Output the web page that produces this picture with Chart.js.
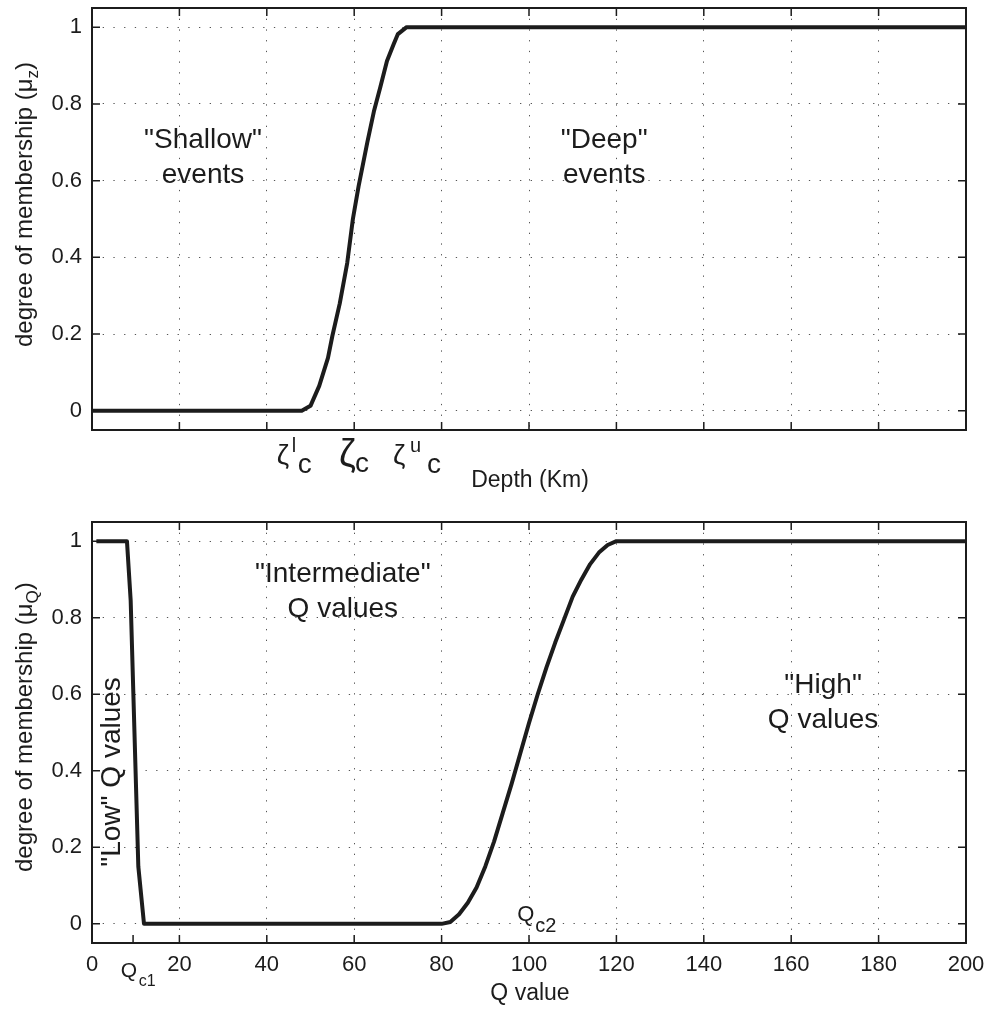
<!DOCTYPE html>
<html>
<head>
<meta charset="utf-8">
<title>Degree of membership</title>
<script src="https://cdn.jsdelivr.net/npm/chart.js@4.4.1/dist/chart.umd.min.js"></script>
<style>
  html, body { margin: 0; padding: 0; background: #fff; }
  #wrap { position: relative; width: 991px; height: 1010px; }
  canvas { position: absolute; left: 0; }
  #depthChart { top: 0; }
  #qChart { top: 500px; }
</style>
</head>
<body>
<div id="wrap">
  <canvas id="depthChart" width="991" height="500"></canvas>
  <canvas id="qChart" width="991" height="510"></canvas>
</div>
<script>
// top panel: depth membership (mu_z)
const depthX  = [0, 48, 50, 52, 54, 55, 56.7, 58.4, 59.7, 61, 63, 64.5, 66, 67.5, 69, 70, 72, 200];
const depthMu = [0, 0, 0.013, 0.065, 0.138, 0.195, 0.28, 0.385, 0.5, 0.585, 0.7, 0.78, 0.845, 0.912, 0.955, 0.982, 1, 1];

// bottom panel: Q membership (mu_Q)
const qX  = [1, 8, 8.85, 10.6, 11.9, 80, 82, 84, 86, 88, 90, 92, 94, 96, 98, 100, 102, 104, 106, 108, 110, 112, 114, 116, 118, 120, 200];
const qMu = [1, 1, 0.845, 0.15, 0, 0, 0.005, 0.025, 0.055, 0.095, 0.15, 0.215, 0.29, 0.365, 0.445, 0.525, 0.6, 0.67, 0.735, 0.795, 0.855, 0.9, 0.94, 0.97, 0.99, 1, 1];

// axes
const xTicks = [0, 20, 40, 60, 80, 100, 120, 140, 160, 180, 200];
const yTicks = [0, 0.2, 0.4, 0.6, 0.8, 1];
const yMin = -0.05;
const yMax = 1.05;

const FONT = '"Liberation Sans", Arial, Helvetica, sans-serif';
const INK = '#1c1c1c';

// draw a run of text pieces (for sub/superscripts)
function drawParts(ctx, parts, x, y, rotate) {
    ctx.save();
    ctx.translate(x, y);
    if (rotate) ctx.rotate(-Math.PI / 2);
    ctx.fillStyle = INK;
    ctx.textAlign = 'left';
    ctx.textBaseline = 'alphabetic';
    let cx = 0;
    parts.forEach(p => {
        ctx.font = p.size + 'px ' + FONT;
        const px = p.dx !== undefined ? p.dx : cx;
        ctx.fillText(p.t, px, p.dy || 0);
        cx = px + ctx.measureText(p.t).width;
    });
    ctx.restore();
}

// matlab-like frame: box, inward ticks, labels
const framePlugin = {
    id: 'frame',
    afterDraw(chart, args, opts) {
        const { ctx, chartArea: a, scales: { x, y } } = chart;
        ctx.save();
        ctx.strokeStyle = INK;
        ctx.lineWidth = 1.5;
        ctx.beginPath();
        xTicks.forEach(v => {
            const px = x.getPixelForValue(v);
            ctx.moveTo(px, a.bottom); ctx.lineTo(px, a.bottom - 8);
            ctx.moveTo(px, a.top); ctx.lineTo(px, a.top + 8);
        });
        (opts.extraTicks || []).forEach(v => {
            const px = x.getPixelForValue(v);
            ctx.moveTo(px, a.bottom); ctx.lineTo(px, a.bottom - 8);
        });
        yTicks.forEach(v => {
            const py = y.getPixelForValue(v);
            ctx.moveTo(a.left, py); ctx.lineTo(a.left + 8, py);
            ctx.moveTo(a.right, py); ctx.lineTo(a.right - 8, py);
        });
        ctx.stroke();
        ctx.lineWidth = 2;
        ctx.strokeRect(a.left, a.top, a.right - a.left, a.bottom - a.top);
        ctx.restore();

        // y axis title, rotated
        drawParts(ctx, opts.yTitle, 32, opts.yTitleStart, true);

        // x axis title
        ctx.save();
        ctx.fillStyle = INK;
        ctx.font = '23px ' + FONT;
        ctx.textAlign = 'center';
        ctx.fillText(opts.xTitle, (a.left + a.right) / 2 + 1, a.bottom + 57);
        ctx.restore();

        // labels under the axis (zeta, Q_c1)
        (opts.axisLabels || []).forEach(l => {
            drawParts(ctx, l.parts, x.getPixelForValue(l.x), a.bottom + l.below);
        });

        // labels inside the plot
        (opts.inside || []).forEach(l => {
            drawParts(ctx, l.parts, x.getPixelForValue(l.x), y.getPixelForValue(l.y));
        });

        // region notes
        (opts.notes || []).forEach(n => {
            const px = x.getPixelForValue(n.x);
            const py = y.getPixelForValue(n.y);
            ctx.save();
            ctx.fillStyle = INK;
            ctx.font = '28px ' + FONT;
            ctx.textAlign = 'center';
            ctx.translate(px, py);
            if (n.rotate) ctx.rotate(-Math.PI / 2);
            n.lines.forEach((t, i) => ctx.fillText(t, 0, i * 35));
            ctx.restore();
        });
    }
};

function makeChart(id, xs, ys, cfg) {
    const ctx = document.getElementById(id).getContext('2d');
    return new Chart(ctx, {
        type: 'line',
        data: {
            datasets: [{
                data: xs.map((v, i) => ({ x: v, y: ys[i] })),
                borderColor: INK,
                borderWidth: 4,
                pointRadius: 0,
                tension: 0,
                fill: false,
                borderJoinStyle: 'round'
            }]
        },
        options: {
            responsive: false,
            animation: false,
            events: [],
            layout: { padding: cfg.padding },
            plugins: {
                legend: { display: false },
                tooltip: { enabled: false },
                frame: cfg.frame
            },
            scales: {
                x: {
                    type: 'linear',
                    min: 0,
                    max: 200,
                    afterBuildTicks: s => { s.ticks = xTicks.map(v => ({ value: v })); },
                    afterFit: s => { s.height = cfg.xHeight; s.paddingLeft = 0; s.paddingRight = 0; },
                    ticks: {
                        display: cfg.xLabels,
                        font: { family: FONT, size: 22 },
                        color: INK,
                        padding: 9,
                        maxRotation: 0,
                        autoSkip: false,
                        callback: v => String(v)
                    },
                    grid: { color: '#555', lineWidth: 1, drawTicks: false },
                    border: { display: false, dash: [1.3, 9.4] }
                },
                y: {
                    type: 'linear',
                    min: yMin,
                    max: yMax,
                    afterBuildTicks: s => { s.ticks = yTicks.map(v => ({ value: v })); },
                    afterFit: s => { s.width = 92; s.paddingTop = 0; s.paddingBottom = 0; },
                    ticks: {
                        font: { family: FONT, size: 22 },
                        color: INK,
                        padding: 10,
                        callback: v => String(v)
                    },
                    grid: { color: '#555', lineWidth: 1, drawTicks: false },
                    border: { display: false, dash: [1.3, 9.4] }
                }
            }
        },
        plugins: [framePlugin]
    });
}

// top: depth
makeChart('depthChart', depthX, depthMu, {
    padding: { left: 0, right: 25, top: 8, bottom: 0 },
    xHeight: 70,
    xLabels: false,
    frame: {
        xTitle: 'Depth (Km)',
        yTitleStart: 347,
        yTitle: [
            { t: 'degree of membership (\u03bc', size: 24 },
            { t: 'z', size: 17, dy: 6 },
            { t: ')', size: 24 }
        ],
        axisLabels: [
            { x: 42.3, below: 34, parts: [
                { t: '\u03b6', size: 28, dx: 0 },
                { t: 'l', size: 20, dx: 15, dy: -12 },
                { t: 'c', size: 28, dx: 21, dy: 9 }
            ] },
            { x: 56.5, below: 36, parts: [
                { t: '\u03b6', size: 38, dx: 0 },
                { t: 'c', size: 28, dx: 16, dy: 6 }
            ] },
            { x: 68.9, below: 34, parts: [
                { t: '\u03b6', size: 28, dx: 0 },
                { t: 'u', size: 20, dx: 17, dy: -12 },
                { t: 'c', size: 28, dx: 34, dy: 9 }
            ] }
        ],
        notes: [
            { lines: ['"Shallow"', 'events'], x: 25.4, y: 0.684 },
            { lines: ['"Deep"', 'events'], x: 117.2, y: 0.684 }
        ]
    }
});

// bottom: Q value
makeChart('qChart', qX, qMu, {
    padding: { left: 0, right: 25, top: 22, bottom: 0 },
    xHeight: 67,
    xLabels: true,
    frame: {
        xTitle: 'Q value',
        yTitleStart: 372,
        extraTicks: [9.4],
        yTitle: [
            { t: 'degree of membership (\u03bc', size: 24 },
            { t: 'Q', size: 17, dy: 6 },
            { t: ')', size: 24 }
        ],
        axisLabels: [
            { x: 6.6, below: 34, parts: [
                { t: 'Q', size: 21, dx: 0 },
                { t: 'c1', size: 16, dx: 18, dy: 9 }
            ] }
        ],
        inside: [
            { x: 97.3, y: 0.007, parts: [
                { t: 'Q', size: 22, dx: 0 },
                { t: 'c2', size: 20, dx: 18, dy: 11 }
            ] }
        ],
        notes: [
            { lines: ['"Intermediate"', 'Q values'], x: 57.4, y: 0.892 },
            { lines: ['"High"', 'Q values'], x: 167.3, y: 0.603 },
            { lines: ['"Low" Q values'], x: 6.4, y: 0.397, rotate: true }
        ]
    }
});
</script>
</body>
</html>
